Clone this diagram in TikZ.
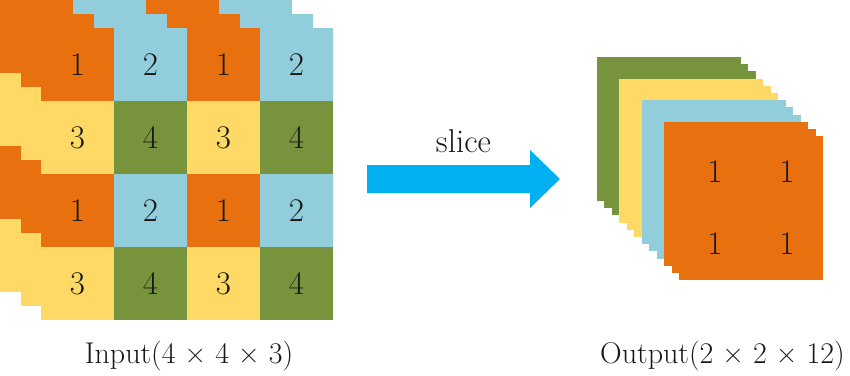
\documentclass[tikz,border=0pt]{standalone}
\usepackage{fontspec}
\definecolor{corange}{HTML}{E8700E}
\definecolor{cblue}{HTML}{92CDDC}
\definecolor{cyellow}{HTML}{FFD966}
\definecolor{cgreen}{HTML}{77933C}
\definecolor{carrow}{HTML}{00B0F0}
\tikzset{
  num/.style={font=\fontsize{33}{33}\selectfont, text=black!90, inner sep=0pt},
  lbl/.style={font=\fontsize{30}{30}\selectfont, text=black!90, inner sep=0pt, anchor=base},
  bigarrow/.style={fill=carrow}
}
\begin{document}
\begin{tikzpicture}[x=1pt,y=-1pt]
\useasboundingbox (0,0) rectangle (850,375);
% ---- input: three 4x4 layers ----
\foreach \l in {0,1,2}{
  \foreach \r in {0,1,2,3}{
    \foreach \c in {0,1,2,3}{
      \pgfmathtruncatemacro{\idx}{mod(\r,2)*2+mod(\c,2)}
      \ifcase\idx \def\col{corange}\or \def\col{cblue}\or \def\col{cyellow}\or \def\col{cgreen}\fi
      \fill[\col] ({20.5*\l+73*\c},{14*\l+73*\r}) rectangle ++(73.4,73.4);
    }
  }
}
\foreach \r in {0,1,2,3}{
  \foreach \c in {0,1,2,3}{
    \pgfmathtruncatemacro{\idx}{mod(\r,2)*2+mod(\c,2)+1}
    \node[num] (in\r\c) at ({41+36.5+73*\c},{28+36.5+73*\r}) {\idx};
  }
}
% ---- output: twelve 2x2 slices ----
\foreach \k in {0,...,11}{
  \pgfmathtruncatemacro{\g}{int(\k/3)}
  \ifcase\g \def\col{cgreen}\or \def\col{cyellow}\or \def\col{cblue}\or \def\col{corange}\fi
  \fill[\col] ({597+7.45*\k},{57+7.2*\k}) rectangle ++(144,144);
}
\node[num] (o00) at (715,172) {1};
\node[num] (o01) at (787,172) {1};
\node[num] (o10) at (715,244) {1};
\node[num] (o11) at (787,244) {1};
% ---- arrow ----
\fill[bigarrow] (367,165) -- (530,165) -- (530,150) -- (560,179) -- (530,208) -- (530,193) -- (367,193) -- cycle;
\node[lbl, font=\fontsize{33}{33}\selectfont] (slice) at (463.5,152) {slice};
% ---- labels ----
\node[lbl] (inlbl) at (189,363) {Input(4 × 4 × 3)};
\node[lbl] (outlbl) at (722.5,363) {Output(2 × 2 × 12)};
\end{tikzpicture}
\end{document}
